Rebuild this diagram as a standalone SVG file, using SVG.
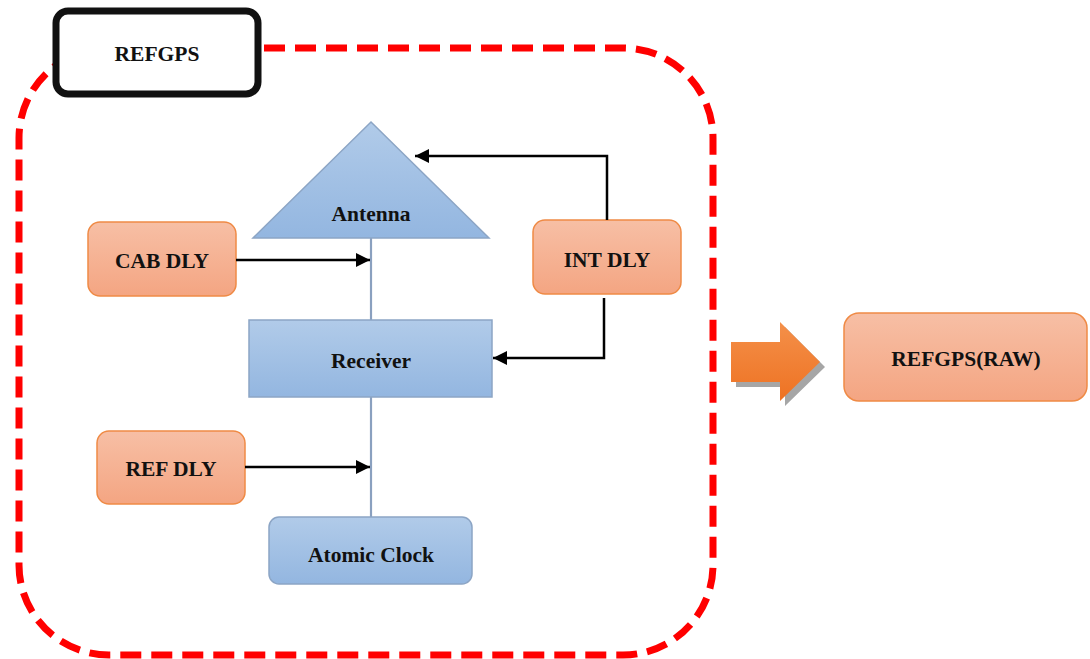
<svg xmlns="http://www.w3.org/2000/svg" width="1090" height="659" viewBox="0 0 1090 659">
<defs>
<linearGradient id="gBlue" x1="0" y1="0" x2="0" y2="1"><stop offset="0" stop-color="#b1cbe9"/><stop offset="1" stop-color="#93b6e0"/></linearGradient>
<linearGradient id="gOrange" x1="0" y1="0" x2="0" y2="1"><stop offset="0" stop-color="#f7bfa5"/><stop offset="1" stop-color="#f4a582"/></linearGradient>
<linearGradient id="gArrow" x1="0" y1="0" x2="0" y2="1"><stop offset="0" stop-color="#f4904a"/><stop offset="1" stop-color="#ee7222"/></linearGradient>
<marker id="ah" viewBox="0 0 10 10" refX="10" refY="5" markerWidth="16" markerHeight="14" markerUnits="userSpaceOnUse" orient="auto"><path d="M0,0 L10,5 L0,10 Z" fill="#000"/></marker>
</defs>
<style>
.t{font-family:"Liberation Serif","Times New Roman",serif;font-weight:bold;font-size:21.5px;fill:#111;text-anchor:middle;dominant-baseline:central}
.blue{fill:url(#gBlue);stroke:#8ca5c5;stroke-width:1.5}
.orange{fill:url(#gOrange);stroke:#ef8a45;stroke-width:1.5}
.conn{fill:none;stroke:#000;stroke-width:2.5}
.link{fill:none;stroke:#8aa0bf;stroke-width:2.2}
</style>
<rect width="1090" height="659" fill="#fff"/>
<g id="container">
<rect x="19" y="48" width="694" height="607" rx="90" ry="90" fill="none" stroke="#ff0000" stroke-width="7" stroke-dasharray="21 10"/>
</g>
<g id="refgps">
<rect x="56" y="11" width="202" height="83" rx="12" fill="#fff" stroke="#111" stroke-width="7"/>
<text class="t" x="157" y="54">REFGPS</text>
</g>
<g id="links">
<line class="link" x1="371" y1="238" x2="371" y2="320"/>
<line class="link" x1="371" y1="397" x2="371" y2="517"/>
</g>
<g id="antenna">
<polygon class="blue" points="371,122 489,238 253,238"/>
<text class="t" x="371" y="214">Antenna</text>
</g>
<g id="receiver">
<rect class="blue" x="249" y="320" width="243" height="77"/>
<text class="t" x="371" y="361">Receiver</text>
</g>
<g id="atomic-clock">
<rect class="blue" x="269" y="517" width="203" height="67" rx="10"/>
<text class="t" x="371" y="555">Atomic Clock</text>
</g>
<g id="cab-dly">
<rect class="orange" x="88" y="222" width="148" height="74" rx="12"/>
<text class="t" x="162" y="261">CAB DLY</text>
</g>
<g id="ref-dly">
<rect class="orange" x="97" y="431" width="148" height="73" rx="12"/>
<text class="t" x="171" y="469">REF DLY</text>
</g>
<g id="int-dly">
<rect class="orange" x="533" y="220" width="148" height="74" rx="12"/>
<text class="t" x="607" y="260">INT DLY</text>
</g>
<g id="connectors">
<path class="conn" d="M236,260 H370" marker-end="url(#ah)"/>
<path class="conn" d="M245,467 H370" marker-end="url(#ah)"/>
<path class="conn" d="M607,220 V156 H415" marker-end="url(#ah)"/>
<path class="conn" d="M604,298 V358 H493" marker-end="url(#ah)"/>
</g>
<g id="big-arrow">
<path d="M736,347 H785 V327 L825,367 L785,406 V387 H736 Z" fill="#a6a6a6"/>
<path d="M731,342 H780 V322 L820,362 L780,401 V382 H731 Z" fill="url(#gArrow)"/>
</g>
<g id="refgps-raw">
<rect class="orange" x="844" y="313" width="243" height="88" rx="15"/>
<text class="t" x="966" y="359">REFGPS(RAW)</text>
</g>
</svg>
